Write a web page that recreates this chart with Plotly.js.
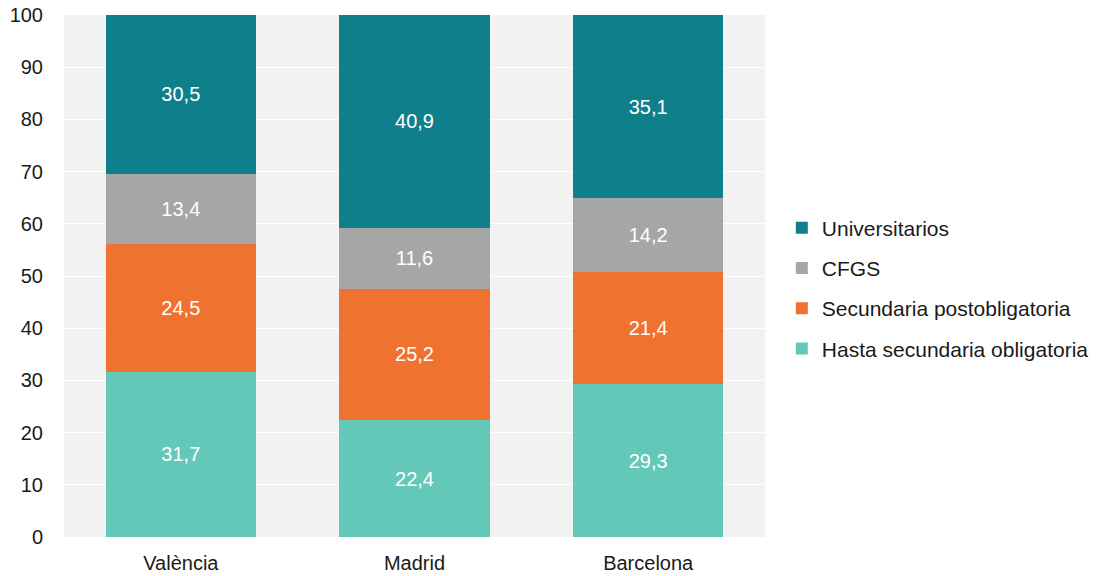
<!DOCTYPE html>
<html>
<head>
<meta charset="utf-8">
<script src="https://cdn.plot.ly/plotly-3.0.1.min.js"></script>
<style>html,body{margin:0;padding:0;background:#fff;}#chart{width:1097px;height:576px;}</style>
</head>
<body>
<div id="chart"></div>
<script>
const categories = ["València", "Madrid", "Barcelona"];
const seriesNames = ["Hasta secundaria obligatoria", "Secundaria postobligatoria", "CFGS", "Universitarios"];
const hastaSecundaria = [31.7, 22.4, 29.3];
const secundariaPost = [24.5, 25.2, 21.4];
const cfgs = [13.4, 11.6, 14.2];
const universitarios = [30.5, 40.9, 35.1];
const colors = ["#64c8b8", "#f07230", "#a6a6a6", "#0f7f8c"];

const values = [hastaSecundaria, secundariaPost, cfgs, universitarios];
const traces = values.map((v, i) => ({
  type: "bar",
  name: seriesNames[i],
  x: categories,
  y: v,
  marker: {color: colors[i], line: {width: 0}},
  texttemplate: "%{y:.1f}",
  textposition: "inside",
  insidetextanchor: "middle",
  textangle: 0,
  textfont: {color: "#ffffff", size: 20, family: "Liberation Sans, Arial, sans-serif"},
  legendgroup: "g" + i,
  legendrank: 1000 - i,
  hoverinfo: "skip"
}));

const layout = {
  width: 1097, height: 576,
  margin: {l: 64, r: 332, t: 15, b: 39, autoexpand: false},
  barmode: "stack",
  bargap: 0.358,
  separators: ",.",
  paper_bgcolor: "#ffffff",
  plot_bgcolor: "#f2f2f2",
  font: {family: "Liberation Sans, Arial, sans-serif", size: 20, color: "#1a1a1a"},
  xaxis: {
    showgrid: false, zeroline: false, showline: false,
    ticks: "", ticklabelstandoff: 12,
    tickfont: {size: 20, color: "#1a1a1a"}
  },
  yaxis: {
    range: [0, 100], dtick: 10, showgrid: true, gridcolor: "#ffffff", gridwidth: 1,
    zeroline: false, showline: false, ticks: "", ticklabelstandoff: 20,
    tickfont: {size: 20, color: "#1a1a1a"}
  },
  legend: {
    x: 1.024, xanchor: "left", y: 0.476, yanchor: "middle",
    traceorder: "grouped", tracegroupgap: 10,
    font: {size: 21, color: "#1a1a1a"},
    bgcolor: "rgba(0,0,0,0)"
  },
  showlegend: true
};

Plotly.newPlot("chart", traces, layout, {displayModeBar: false, staticPlot: true});
</script>
</body>
</html>
